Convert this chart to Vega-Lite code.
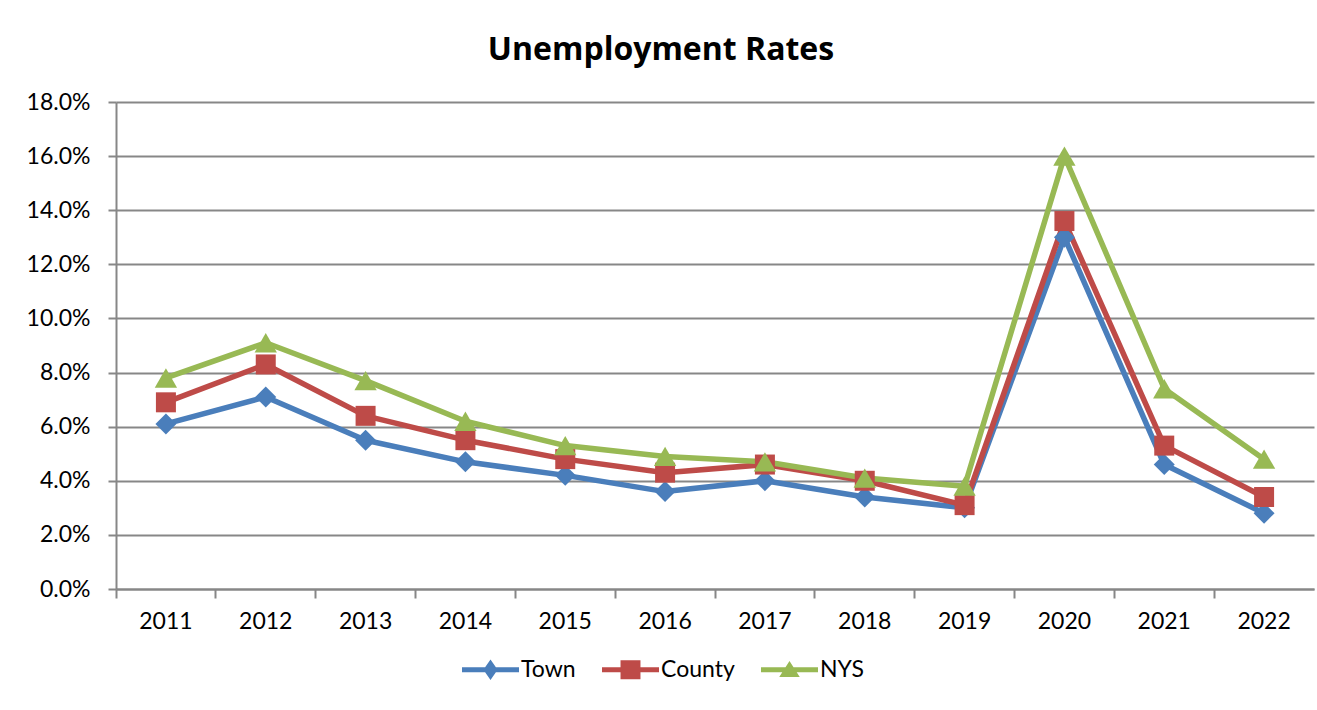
{
  "$schema": "https://vega.github.io/schema/vega-lite/v6.json",
  "autosize": "none",
  "width": 1198,
  "height": 487,
  "padding": {"left": 116, "top": 102, "right": 3, "bottom": 121},
  "background": "white",
  "title": {
    "text": "Unemployment Rates",
    "font": "Open Sans",
    "fontSize": 32,
    "fontWeight": "bold",
    "color": "black",
    "anchor": "middle",
    "dx": -54,
    "offset": 24
  },
  "data": {
    "values": [
      {"year": "2011", "series": "Town", "rate": 0.061},
      {"year": "2012", "series": "Town", "rate": 0.071},
      {"year": "2013", "series": "Town", "rate": 0.055},
      {"year": "2014", "series": "Town", "rate": 0.047},
      {"year": "2015", "series": "Town", "rate": 0.042},
      {"year": "2016", "series": "Town", "rate": 0.036},
      {"year": "2017", "series": "Town", "rate": 0.040},
      {"year": "2018", "series": "Town", "rate": 0.034},
      {"year": "2019", "series": "Town", "rate": 0.030},
      {"year": "2020", "series": "Town", "rate": 0.130},
      {"year": "2021", "series": "Town", "rate": 0.046},
      {"year": "2022", "series": "Town", "rate": 0.028},
      {"year": "2011", "series": "County", "rate": 0.069},
      {"year": "2012", "series": "County", "rate": 0.083},
      {"year": "2013", "series": "County", "rate": 0.064},
      {"year": "2014", "series": "County", "rate": 0.055},
      {"year": "2015", "series": "County", "rate": 0.048},
      {"year": "2016", "series": "County", "rate": 0.043},
      {"year": "2017", "series": "County", "rate": 0.046},
      {"year": "2018", "series": "County", "rate": 0.040},
      {"year": "2019", "series": "County", "rate": 0.031},
      {"year": "2020", "series": "County", "rate": 0.136},
      {"year": "2021", "series": "County", "rate": 0.053},
      {"year": "2022", "series": "County", "rate": 0.034},
      {"year": "2011", "series": "NYS", "rate": 0.078},
      {"year": "2012", "series": "NYS", "rate": 0.091},
      {"year": "2013", "series": "NYS", "rate": 0.077},
      {"year": "2014", "series": "NYS", "rate": 0.062},
      {"year": "2015", "series": "NYS", "rate": 0.053},
      {"year": "2016", "series": "NYS", "rate": 0.049},
      {"year": "2017", "series": "NYS", "rate": 0.047},
      {"year": "2018", "series": "NYS", "rate": 0.041},
      {"year": "2019", "series": "NYS", "rate": 0.038},
      {"year": "2020", "series": "NYS", "rate": 0.160},
      {"year": "2021", "series": "NYS", "rate": 0.074},
      {"year": "2022", "series": "NYS", "rate": 0.048}
    ]
  },
  "encoding": {
    "x": {
      "field": "year",
      "type": "ordinal",
      "scale": {"type": "band", "paddingInner": 0, "paddingOuter": 0},
      "axis": {
        "title": null,
        "labelAngle": 0,
        "bandPosition": 0,
        "labelFont": "Lato",
        "labelFontSize": 23,
        "labelColor": "black",
        "labelPadding": 12,
        "domainColor": "#878787",
        "domainWidth": 2,
        "tickColor": "#878787",
        "tickWidth": 2,
        "tickSize": 9,
        "grid": false
      }
    },
    "y": {
      "field": "rate",
      "type": "quantitative",
      "scale": {"domain": [0, 0.18], "nice": false, "zero": true},
      "axis": {
        "title": null,
        "values": [0, 0.02, 0.04, 0.06, 0.08, 0.1, 0.12, 0.14, 0.16, 0.18],
        "format": ".1%",
        "labelFont": "Lato",
        "labelFontSize": 23,
        "labelColor": "black",
        "labelPadding": 18,
        "domainColor": "#878787",
        "domainWidth": 2,
        "tickColor": "#878787",
        "tickWidth": 2,
        "tickSize": 8,
        "grid": true,
        "gridColor": "#878787",
        "gridWidth": 2
      }
    },
    "color": {
      "field": "series",
      "type": "nominal",
      "sort": ["Town", "County", "NYS"],
      "scale": {"domain": ["Town", "County", "NYS"], "range": ["#4A7EBB", "#BE4B48", "#98B954"]},
      "legend": {
        "title": null,
        "orient": "none",
        "legendX": 346,
        "legendY": 539,
        "direction": "horizontal",
        "labelFont": "Lato",
        "labelFontSize": 23,
        "labelColor": "black",
        "labelOffset": 2,
        "columnPadding": 26,
        "symbolSize": 3249,
        "symbolStrokeWidth": 0,
        "symbolOpacity": 1,
        "encode": {
          "symbols": {
            "update": {
              "shape": {"signal": "datum.value === 'Town' ? 'M-1,-0.085L1,-0.085L1,0.085L-1,0.085Z M-0.25,0L0,-0.36L0.25,0L0,0.36Z' : datum.value === 'County' ? 'M-1,-0.085L1,-0.085L1,0.085L-1,0.085Z M-0.35,-0.33L0.35,-0.33L0.35,0.33L-0.35,0.33Z' : 'M-1,-0.085L1,-0.085L1,0.085L-1,0.085Z M0,-0.31L0.36,0.25L-0.36,0.25Z'"},
              "size": {"value": 3249},
              "strokeWidth": {"value": 0},
              "opacity": {"value": 1}
            }
          }
        }
      }
    }
  },
  "layer": [
    {
      "mark": {"type": "line", "strokeWidth": 5.5, "strokeCap": "round", "strokeJoin": "round"},
      "encoding": {}
    },
    {
      "transform": [{"filter": "datum.series === 'Town'"}],
      "mark": {"type": "point", "filled": true, "opacity": 1, "shape": "diamond", "size": 440}
    },
    {
      "transform": [{"filter": "datum.series === 'County'"}],
      "mark": {"type": "point", "filled": true, "opacity": 1, "shape": "square", "size": 400}
    },
    {
      "transform": [{"filter": "datum.series === 'NYS'"}],
      "mark": {"type": "point", "filled": true, "opacity": 1, "shape": "triangle-up", "size": 500}
    }
  ],
  "config": {
    "view": {"stroke": null}
  }
}
